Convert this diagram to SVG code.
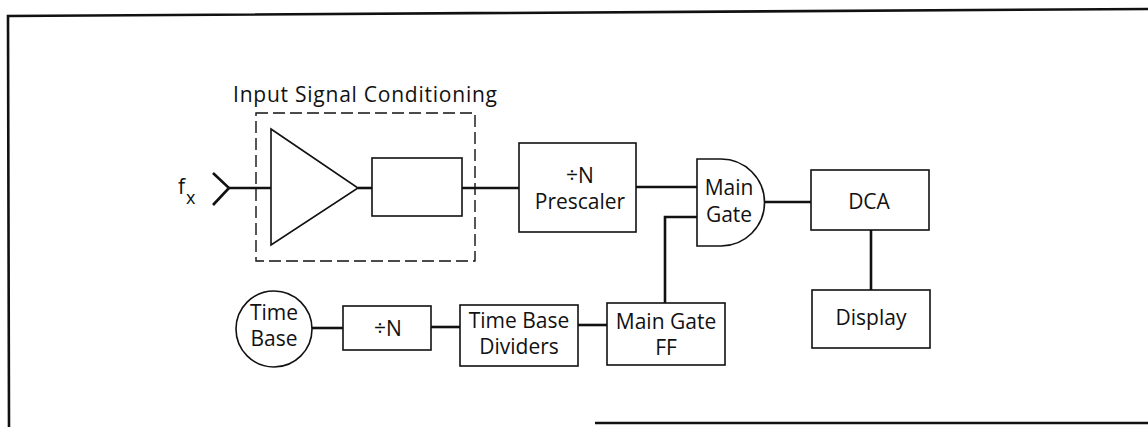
<svg xmlns="http://www.w3.org/2000/svg" width="1148" height="427" viewBox="0 0 1148 427">
<style>
.box{fill:#fff;stroke:#111;stroke-width:1.6}
.wire{fill:none;stroke:#111;stroke-width:2.6}
.frame{fill:none;stroke:#111;stroke-width:2.6}
text{font-family:"Open Sans","Liberation Sans",sans-serif;font-size:21px;fill:#111;text-anchor:middle}
</style>
<rect width="1148" height="427" fill="#fff"/>
<g id="frame">
<polyline class="frame" points="9,427 8,16 1148,9"/>
<line class="frame" x1="595" y1="423" x2="1148" y2="423"/>
</g>
<g id="connectors">
<polyline class="wire" points="213,173 229,188 213,205"/>
<line class="wire" x1="229" y1="188" x2="271" y2="188"/>
<line class="wire" x1="358" y1="188" x2="372" y2="188"/>
<line class="wire" x1="462" y1="188" x2="519" y2="188"/>
<line class="wire" x1="636" y1="187" x2="697" y2="187"/>
<polyline class="wire" points="697,217 665,217 665,304"/>
<line class="wire" x1="764" y1="202" x2="811" y2="202"/>
<line class="wire" x1="871" y1="230" x2="871" y2="290"/>
<line class="wire" x1="312" y1="328" x2="343" y2="328"/>
<line class="wire" x1="431" y1="327" x2="460" y2="327"/>
<line class="wire" x1="578" y1="325" x2="607" y2="325"/>
</g>
<g id="input-label">
<text x="178" y="194" style="text-anchor:start">f</text>
<text x="186" y="204" style="text-anchor:start;font-size:18px">x</text>
</g>
<g id="input-signal-conditioning">
<text x="365" y="102" textLength="264" lengthAdjust="spacing">Input Signal Conditioning</text>
<rect x="256" y="113" width="219" height="148" fill="none" stroke="#111" stroke-width="1.4" stroke-dasharray="12,5"/>
</g>
<g id="amplifier">
<polygon class="box" points="271,129 358,188 271,245"/>
</g>
<g id="filter">
<rect class="box" x="372" y="158" width="90" height="58"/>
</g>
<g id="prescaler">
<rect class="box" x="519" y="143" width="117" height="89"/>
<text x="580" y="183">÷N</text>
<text x="580" y="209">Prescaler</text>
</g>
<g id="main-gate">
<path class="box" d="M697,159 H721 A43.5,43.5 0 0 1 721,246 H697 Z"/>
<text x="729" y="195">Main</text>
<text x="729" y="222">Gate</text>
</g>
<g id="dca">
<rect class="box" x="811" y="170" width="118" height="60"/>
<text x="869" y="209">DCA</text>
</g>
<g id="display">
<rect class="box" x="812" y="290" width="118" height="58"/>
<text x="871" y="325">Display</text>
</g>
<g id="time-base">
<circle class="box" cx="274" cy="329" r="38"/>
<text x="274" y="320">Time</text>
<text x="274" y="346">Base</text>
</g>
<g id="divide-n">
<rect class="box" x="343" y="306" width="88" height="44"/>
<text x="388" y="336">÷N</text>
</g>
<g id="time-base-dividers">
<rect class="box" x="460" y="305" width="118" height="61"/>
<text x="519" y="328">Time Base</text>
<text x="519" y="354">Dividers</text>
</g>
<g id="main-gate-ff">
<rect class="box" x="607" y="303" width="118" height="62"/>
<text x="666" y="329">Main Gate</text>
<text x="666" y="355">FF</text>
</g>
</svg>
